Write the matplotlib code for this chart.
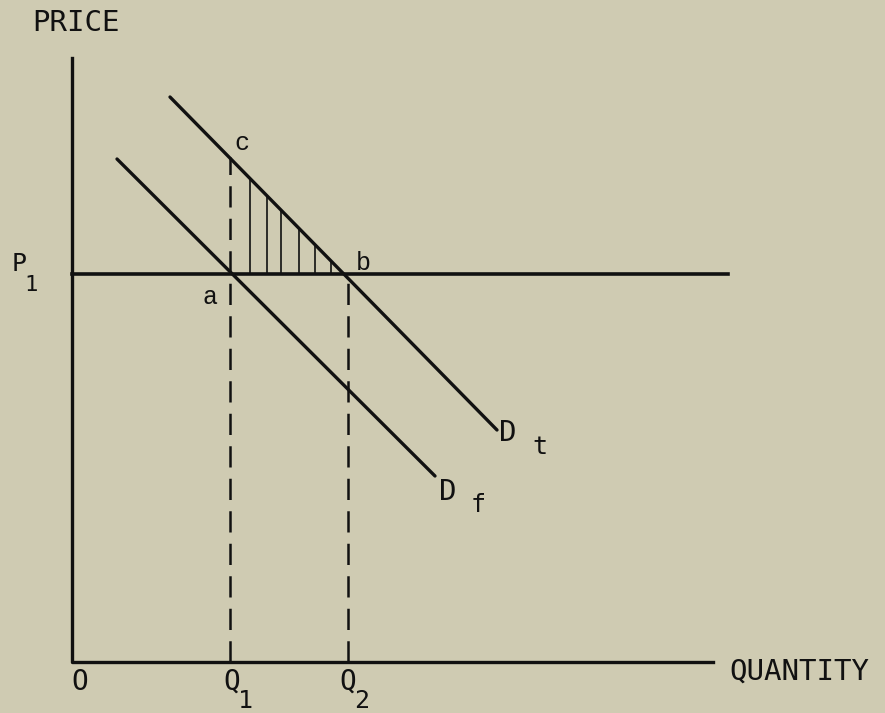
import matplotlib.pyplot as plt

# coordinates in quantity / price units (origin at O)
dt_q = [98, 425]
dt_p = [565, 232]
df_q = [45, 363]
df_p = [503, 186]
p1 = 388
q1 = 158
q2 = 276
c_price = 505
hatch_q = [178, 195, 209, 227, 243, 259]
axis_top = 604
axis_right = 641
p1_right = 656


def dt_at(q):
    # price on D_t line at quantity q
    slope = (dt_p[1] - dt_p[0]) / (dt_q[1] - dt_q[0])
    return dt_p[0] + slope * (q - dt_q[0])


fig = plt.figure(figsize=(8.85, 7.13), dpi=100)
bg = '#cfcbb2'
fig.patch.set_facecolor(bg)
ax = fig.add_axes([0, 0, 1, 1])
ax.set_facecolor(bg)
ax.set_xlim(-72, 813)
ax.set_ylim(-51, 662)
ax.axis('off')

ink = '#111111'
# axes
ax.plot([0, 0, axis_right], [axis_top, 0, 0], color=ink, lw=2.4, solid_joinstyle='round')
# P1 horizontal
ax.plot([0, p1_right], [p1, p1], color=ink, lw=2.6)
# demand curves
ax.plot(dt_q, dt_p, color=ink, lw=2.4, solid_capstyle='round')
ax.plot(df_q, df_p, color=ink, lw=2.4, solid_capstyle='round')
# dashed drop lines
ax.plot([q1, q1], [0, c_price], color=ink, lw=1.8, dashes=(8.5, 4.5))
ax.plot([q2, q2], [0, p1], color=ink, lw=1.8, dashes=(8.5, 4.5))
# hatching
for q in hatch_q:
    ax.plot([q, q], [p1, dt_at(q)], color=ink, lw=1.2)

mono = 'DejaVu Sans Mono'
cour = 'Liberation Mono'
ax.text(-40, 639, 'PRICE', family=mono, fontsize=21, color=ink, va='center', ha='left')
ax.text(657, -10, 'QUANTITY', family=mono, fontsize=21, color=ink, va='center', ha='left')
ax.text(8, -20, 'O', family=mono, fontsize=20, color=ink, va='center', ha='center')
ax.text(160, -20, 'Q', family=mono, fontsize=20, color=ink, va='center', ha='center')
ax.text(173, -39, '1', family=mono, fontsize=18, color=ink, va='center', ha='center')
ax.text(276, -20, 'Q', family=mono, fontsize=20, color=ink, va='center', ha='center')
ax.text(290, -39, '2', family=mono, fontsize=18, color=ink, va='center', ha='center')
ax.text(-53, 398, 'P', family=mono, fontsize=18, color=ink, va='center', ha='center')
ax.text(-41, 377, '1', family=mono, fontsize=16, color=ink, va='center', ha='center')
ax.text(436, 229, 'D', family=mono, fontsize=21, color=ink, va='center', ha='center')
ax.text(468, 215, 't', family=mono, fontsize=18, color=ink, va='center', ha='center')
ax.text(376, 170, 'D', family=mono, fontsize=21, color=ink, va='center', ha='center')
ax.text(406, 157, 'f', family=mono, fontsize=18, color=ink, va='center', ha='center')
ax.text(170, 519, 'c', family=cour, fontsize=18, color=ink, va='center', ha='center')
ax.text(291, 399, 'b', family=cour, fontsize=18, color=ink, va='center', ha='center')
ax.text(138, 365, 'a', family=cour, fontsize=18, color=ink, va='center', ha='center')

fig.savefig('out.png', dpi=100, facecolor=bg)
